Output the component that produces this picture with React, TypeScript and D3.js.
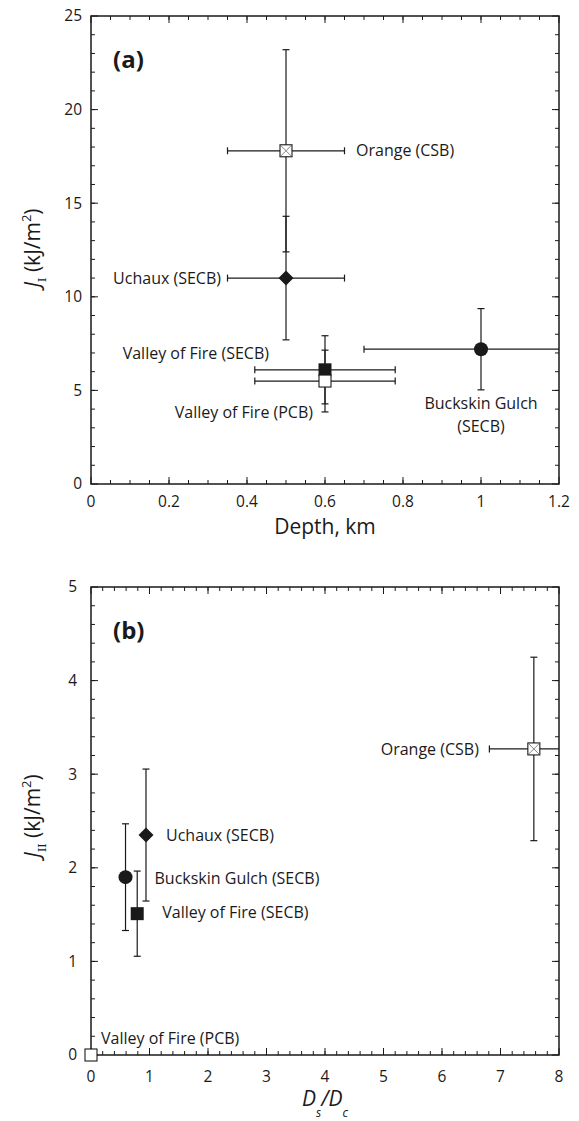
import React from 'react';
import * as d3 from 'd3';

// sites, in the same order for both panels
const sites = ['Orange (CSB)', 'Uchaux (SECB)', 'Valley of Fire (SECB)', 'Valley of Fire (PCB)', 'Buckskin Gulch (SECB)'];

// panel (a): fracture energy J_I vs depth
const depthKm = [0.5, 0.5, 0.6, 0.6, 1.0];
const depthErr = [0.15, 0.15, 0.18, 0.18, 0.3];
const jI = [17.8, 11.0, 6.1, 5.5, 7.2];
const jIErr = [5.4, 3.3, 1.82, 1.65, 2.17];

// panel (b): J_II vs Ds/Dc
const dsDc = [7.57, 0.94, 0.79, 0, 0.59];
const dsDcErr = [0.76, 0, 0, 0, 0];
const jII = [3.27, 2.35, 1.51, 0, 1.9];
const jIIErr = [0.98, 0.705, 0.455, 0, 0.57];

const xTicksA = [0, 0.2, 0.4, 0.6, 0.8, 1, 1.2];
const yTicksA = [0, 5, 10, 15, 20, 25];
const xTicksB = [0, 1, 2, 3, 4, 5, 6, 7, 8];
const yTicksB = [0, 1, 2, 3, 4, 5];

const INK = '#1a1a1a';
const FONT = '"Open Sans", sans-serif';

const markerFor = (site: string) => {
  if (site.startsWith('Orange')) return 'xsquare';
  if (site.startsWith('Uchaux')) return 'diamond';
  if (site.startsWith('Buckskin')) return 'circle';
  if (site.includes('PCB')) return 'opensquare';
  return 'square';
};

const Marker = ({ kind, x, y }: { kind: string; x: number; y: number }) => {
  if (kind === 'circle') return <circle cx={x} cy={y} r={7} fill={INK} />;
  if (kind === 'diamond') {
    const s = 7.5;
    return <path d={`M${x},${y - s}L${x + s},${y}L${x},${y + s}L${x - s},${y}Z`} fill={INK} />;
  }
  if (kind === 'square') return <rect x={x - 6.5} y={y - 6.5} width={13} height={13} fill={INK} />;
  const s = 6;
  return (
    <g>
      <rect x={x - s} y={y - s} width={2 * s} height={2 * s} fill="#fff" stroke={INK} strokeWidth={1.1} />
      {kind === 'xsquare' && (
        <path d={`M${x - s},${y - s}L${x + s},${y + s}M${x + s},${y - s}L${x - s},${y + s}`} stroke="#555" strokeWidth={0.7} />
      )}
    </g>
  );
};

type Label = { site: string; lines: string[]; dx: number; dy: number; anchor: string };

const Panel = (p: {
  id: string;
  top: number;
  bottom: number;
  xDomain: [number, number];
  yDomain: [number, number];
  xTicks: number[];
  yTicks: number[];
  xMinor: number;
  yMinor: number;
  xs: number[];
  xErr: number[];
  ys: number[];
  yErr: number[];
  labels: Label[];
  tag: string;
  xLabelGap: number;
  yLabelGap: number;
}) => {
  const left = 91;
  const right = 559;
  const x = d3.scaleLinear().domain(p.xDomain).range([left, right]);
  const y = d3.scaleLinear().domain(p.yDomain).range([p.bottom, p.top]);
  const nx = Math.round((p.xDomain[1] - p.xDomain[0]) / p.xMinor);
  const ny = Math.round((p.yDomain[1] - p.yDomain[0]) / p.yMinor);
  const xMinor = d3.range(1, nx).map((i) => p.xDomain[0] + i * p.xMinor);
  const yMinor = d3.range(1, ny).map((i) => p.yDomain[0] + i * p.yMinor);
  const MAJ = 7;
  const MIN = 4;
  const cap = 3.5;

  return (
    <g>
      <defs>
        <clipPath id={`clip-${p.id}`}>
          <rect x={left} y={p.top} width={right - left} height={p.bottom - p.top} />
        </clipPath>
      </defs>
      {/* ticks, inward on all four sides */}
      <g stroke={INK} strokeWidth={1}>
        {xMinor.map((v) => (
          <g key={'xm' + v}>
            <line x1={x(v)} x2={x(v)} y1={p.bottom} y2={p.bottom - MIN} />
            <line x1={x(v)} x2={x(v)} y1={p.top} y2={p.top + MIN} />
          </g>
        ))}
        {p.xTicks.map((v) => (
          <g key={'xM' + v}>
            <line x1={x(v)} x2={x(v)} y1={p.bottom} y2={p.bottom - MAJ} />
            <line x1={x(v)} x2={x(v)} y1={p.top} y2={p.top + MAJ} />
          </g>
        ))}
        {yMinor.map((v) => (
          <g key={'ym' + v}>
            <line x1={left} x2={left + MIN} y1={y(v)} y2={y(v)} />
            <line x1={right} x2={right - MIN} y1={y(v)} y2={y(v)} />
          </g>
        ))}
        {p.yTicks.map((v) => (
          <g key={'yM' + v}>
            <line x1={left} x2={left + MAJ} y1={y(v)} y2={y(v)} />
            <line x1={right} x2={right - MAJ} y1={y(v)} y2={y(v)} />
          </g>
        ))}
      </g>
      <rect x={left} y={p.top} width={right - left} height={p.bottom - p.top} fill="none" stroke={INK} strokeWidth={1.5} />
      <g fontFamily={FONT} fontSize={15.5} fill={INK}>
        {p.xTicks.map((v) => (
          <text key={'xl' + v} x={x(v)} y={p.bottom + p.xLabelGap} dy="0.35em" textAnchor="middle">
            {String(v)}
          </text>
        ))}
        {p.yTicks.map((v) => (
          <text key={'yl' + v} x={left - p.yLabelGap} y={y(v)} dy="0.35em" textAnchor="end">
            {String(v)}
          </text>
        ))}
      </g>
      <text x={113} y={p.top + 44} dy="0.35em" fontFamily={FONT} fontWeight="bold" fontSize={24} fill={INK}>
        {p.tag}
      </text>
      {/* error bars */}
      <g clipPath={`url(#clip-${p.id})`} stroke={INK} strokeWidth={1.2}>
        {p.xs.map((v, i) => {
          const cx = x(v);
          const cy = y(p.ys[i]);
          const out = [];
          if (p.yErr[i] > 0) {
            const y0 = y(p.ys[i] - p.yErr[i]);
            const y1 = y(p.ys[i] + p.yErr[i]);
            out.push(<line key="v" x1={cx} x2={cx} y1={y0} y2={y1} />);
            out.push(<line key="vc0" x1={cx - cap} x2={cx + cap} y1={y0} y2={y0} />);
            out.push(<line key="vc1" x1={cx - cap} x2={cx + cap} y1={y1} y2={y1} />);
          }
          if (p.xErr[i] > 0) {
            const x0 = x(v - p.xErr[i]);
            const x1 = x(v + p.xErr[i]);
            out.push(<line key="h" x1={x0} x2={x1} y1={cy} y2={cy} />);
            out.push(<line key="hc0" x1={x0} x2={x0} y1={cy - cap} y2={cy + cap} />);
            out.push(<line key="hc1" x1={x1} x2={x1} y1={cy - cap} y2={cy + cap} />);
          }
          return <g key={i}>{out}</g>;
        })}
      </g>
      {p.xs.map((v, i) => (
        <Marker key={'m' + i} kind={markerFor(sites[i])} x={x(v)} y={y(p.ys[i])} />
      ))}
      <g fontFamily={FONT} fontSize={16} fill={INK}>
        {p.labels.map((l) => {
          const i = sites.indexOf(l.site);
          return l.lines.map((t, k) => (
            <text
              key={l.site + k}
              x={x(p.xs[i]) + l.dx}
              y={y(p.ys[i]) + l.dy + k * 23}
              dy="0.35em"
              textAnchor={l.anchor}
            >
              {t}
            </text>
          ));
        })}
      </g>
    </g>
  );
};

const labelsA: Label[] = [
  { site: 'Orange (CSB)', lines: ['Orange (CSB)'], dx: 70, dy: 0, anchor: 'start' },
  { site: 'Uchaux (SECB)', lines: ['Uchaux (SECB)'], dx: -65, dy: 0, anchor: 'end' },
  { site: 'Valley of Fire (SECB)', lines: ['Valley of Fire (SECB)'], dx: -56, dy: -16, anchor: 'end' },
  { site: 'Valley of Fire (PCB)', lines: ['Valley of Fire (PCB)'], dx: -12, dy: 31, anchor: 'end' },
  { site: 'Buckskin Gulch (SECB)', lines: ['Buckskin Gulch', '(SECB)'], dx: 0, dy: 54, anchor: 'middle' },
];

const labelsB: Label[] = [
  { site: 'Orange (CSB)', lines: ['Orange (CSB)'], dx: -55, dy: 0, anchor: 'end' },
  { site: 'Uchaux (SECB)', lines: ['Uchaux (SECB)'], dx: 20, dy: 0, anchor: 'start' },
  { site: 'Buckskin Gulch (SECB)', lines: ['Buckskin Gulch (SECB)'], dx: 29, dy: 1, anchor: 'start' },
  { site: 'Valley of Fire (SECB)', lines: ['Valley of Fire (SECB)'], dx: 25, dy: -1, anchor: 'start' },
  { site: 'Valley of Fire (PCB)', lines: ['Valley of Fire (PCB)'], dx: 10, dy: -17, anchor: 'start' },
];

export default function App() {
  return (
    <svg width={579} height={1121} style={{ position: 'absolute', left: 0, top: 0, background: '#fff' }}>
      <Panel
        id="a"
        top={16}
        bottom={484}
        xDomain={[0, 1.2]}
        yDomain={[0, 25]}
        xTicks={xTicksA}
        yTicks={yTicksA}
        xMinor={0.05}
        yMinor={1}
        xs={depthKm}
        xErr={depthErr}
        ys={jI}
        yErr={jIErr}
        labels={labelsA}
        tag="(a)"
        xLabelGap={18}
        yLabelGap={9}
      />
      <Panel
        id="b"
        top={587}
        bottom={1055}
        xDomain={[0, 8]}
        yDomain={[0, 5]}
        xTicks={xTicksB}
        yTicks={yTicksB}
        xMinor={0.2}
        yMinor={0.2}
        xs={dsDc}
        xErr={dsDcErr}
        ys={jII}
        yErr={jIIErr}
        labels={labelsB}
        tag="(b)"
        xLabelGap={22}
        yLabelGap={14}
      />
      {/* axis titles */}
      <text x={325} y={527} dy="0.35em" textAnchor="middle" fontFamily={FONT} fontSize={21} fill={INK}>
        Depth, km
      </text>
      <text transform="translate(40,248) rotate(-90)" textAnchor="middle" fontFamily={FONT} fontSize={21} fill={INK}>
        <tspan fontStyle="italic">J</tspan>
        <tspan fontFamily="'DejaVu Serif', serif" fontSize={11} dy={6}>I</tspan>
        <tspan dy={-6}> (kJ/m</tspan>
        <tspan fontSize={13} dy={-9}>2</tspan>
        <tspan dy={9}>)</tspan>
      </text>
      <text transform="translate(40,816) rotate(-90)" textAnchor="middle" fontFamily={FONT} fontSize={21} fill={INK}>
        <tspan fontStyle="italic">J</tspan>
        <tspan fontFamily="'DejaVu Serif', serif" fontSize={11} dy={6}>II</tspan>
        <tspan dy={-6}> (kJ/m</tspan>
        <tspan fontSize={13} dy={-9}>2</tspan>
        <tspan dy={9}>)</tspan>
      </text>
      <text x={302} y={1106} fontFamily={FONT} fontSize={21} fontStyle="italic" fill={INK}>
        <tspan>D</tspan>
        <tspan fontSize={12} dy={11}>s</tspan>
        <tspan dy={-11}>/D</tspan>
        <tspan fontSize={12} dy={11}>c</tspan>
      </text>
    </svg>
  );
}
